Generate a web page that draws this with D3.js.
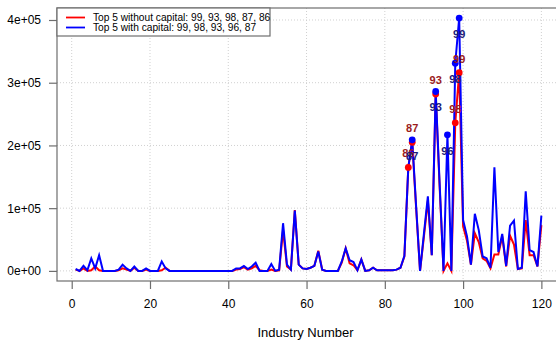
<!DOCTYPE html>
<html>
<head>
<meta charset="utf-8">
<title>Industry Number</title>
<style>
body { margin: 0; background: #fff; }
text { font-family: "Liberation Sans", Arial, sans-serif; fill: #000; }
.frame { fill: none; stroke: #6e6e6e; stroke-width: 1.2px; }
.grid line { stroke: #d0d0d0; stroke-width: 1px; stroke-dasharray: 1,2; }
.axis path { display: none; }
.axis line { stroke: #6e6e6e; stroke-width: 1.2px; }
.axis text { font-size: 12px; }
.lbl { font-size: 11px; font-weight: bold; }
</style>
</head>
<body>
<script src="https://cdn.jsdelivr.net/npm/d3@7"></script>
<script>

// values per industry 1..120
var withoutCapital = [
  2, 0, 4, 0, 1, 7, 1, 0, 0, 0,
  0, 1, 4, 2, 0, 5, 0, 0, 2, 0,
  0, 0, 1, 5, 0, 0, 0, 0, 0, 0,
  0, 0, 0, 0, 0, 0, 0, 0, 0, 0,
  0, 2, 3, 6, 2, 4, 8, 1, 0, 0,
  2, 0, 1, 65, 7, 2, 97, 10, 4, 3,
  5, 8, 32, 2, 0, 0, 0, 0, 13, 36,
  12, 9, 1, 18, 0, 1, 5, 1, 1, 1,
  1, 1, 2, 5, 23, 165, 205, 100, 0, 55,
  112, 25, 282, 135, 0, 12, 0, 236, 316, 71,
  48, 10, 60, 46, 20, 16, 4, 26, 26, 55,
  7, 56, 42, 3, 4, 81, 25, 25, 7, 73
].map(function(v) { return v * 1000; });

var withCapital = [
  3, 0, 8, 1, 20, 4, 25, 0, 0, 0,
  0, 2, 10, 4, 0, 7, 0, 0, 4, 0,
  0, 0, 15, 4, 0, 0, 0, 0, 0, 0,
  0, 0, 0, 0, 0, 0, 0, 0, 0, 0,
  0, 4, 4, 8, 3, 7, 13, 0, 0, 0,
  11, 0, 2, 76, 10, 2, 96, 10, 4, 3,
  5, 8, 31, 2, 0, 0, 0, 0, 15, 36,
  17, 14, 1, 18, 0, 1, 5, 1, 1, 1,
  1, 1, 2, 5, 24, 165, 209, 103, 0, 60,
  119, 25, 286, 140, 0, 217, 0, 331, 403, 81,
  55, 10, 91, 65, 23, 20, 5, 165, 30, 59,
  8, 72, 80, 3, 5, 127, 33, 30, 7, 88
].map(function(v) { return v * 1000; });

var industries = d3.range(1, 121);
var xTicks = [0, 20, 40, 60, 80, 100, 120];
var yTicks = [0, 100000, 200000, 300000, 400000];
var legendLabels = ["Top 5 without capital: 99, 93, 98, 87, 86",
                    "Top 5 with capital: 99, 98, 93, 96, 87"];

var width = 556, height = 343;
var pl = 57, pr = 560, pt = 8, pb = 281;

var svg = d3.select("body").append("svg")
    .attr("width", width)
    .attr("height", height);

// R style 4% padding on both axes
var xr = d3.extent(industries), xp = (xr[1] - xr[0]) * 0.04;
var yr = d3.extent(withoutCapital.concat(withCapital)), yp = (yr[1] - yr[0]) * 0.04;

var x = d3.scaleLinear().domain([xr[0] - xp, xr[1] + xp]).range([pl, pr]);
var y = d3.scaleLinear().domain([yr[0] - yp, yr[1] + yp]).range([pb, pt]);

// grid
var grid = svg.append("g").attr("class", "grid");
grid.selectAll(".gx").data(xTicks).enter().append("line")
    .attr("x1", d => x(d)).attr("x2", d => x(d))
    .attr("y1", pt).attr("y2", pb);
grid.selectAll(".gy").data(yTicks).enter().append("line")
    .attr("x1", pl).attr("x2", pr)
    .attr("y1", d => y(d)).attr("y2", d => y(d));

function sci(d) {
  if (d === 0) return "0e+00";
  var e = Math.floor(Math.log10(d));
  return Math.round(d / Math.pow(10, e)) + "e+" + (e < 10 ? "0" + e : e);
}

svg.append("g").attr("class", "axis")
    .attr("transform", "translate(" + pl + ",0)")
    .call(d3.axisLeft(y).tickValues(yTicks).tickFormat(sci).tickSize(8).tickPadding(8));

svg.append("g").attr("class", "axis")
    .attr("transform", "translate(0," + pb + ")")
    .call(d3.axisBottom(x).tickValues(xTicks).tickFormat(d3.format("d")).tickSize(8).tickPadding(10));

svg.append("text")
    .attr("x", x(60) - 1).attr("y", 337)
    .attr("text-anchor", "middle")
    .style("font-size", "13px")
    .text("Industry Number");

// lines
var line = d3.line().x((d, i) => x(industries[i])).y(d => y(d));

svg.append("path").datum(withoutCapital)
    .attr("d", line).attr("fill", "none")
    .attr("stroke", "red").attr("stroke-width", 2);
svg.append("path").datum(withCapital)
    .attr("d", line).attr("fill", "none")
    .attr("stroke", "blue").attr("stroke-width", 2);

function top5(vals) {
  return d3.range(vals.length).sort((a, b) => vals[b] - vals[a]).slice(0, 5);
}

var topRed = top5(withoutCapital), topBlue = top5(withCapital);

svg.selectAll(".pr").data(topRed).enter().append("circle")
    .attr("cx", i => x(industries[i])).attr("cy", i => y(withoutCapital[i]))
    .attr("r", 3.4).attr("fill", "red");
svg.selectAll(".pb").data(topBlue).enter().append("circle")
    .attr("cx", i => x(industries[i])).attr("cy", i => y(withCapital[i]))
    .attr("r", 3.4).attr("fill", "blue");

svg.selectAll(".lr").data(topRed).enter().append("text")
    .attr("class", "lbl")
    .attr("x", i => x(industries[i])).attr("y", i => y(withoutCapital[i]) - 10)
    .attr("text-anchor", "middle")
    .style("fill", "#9b1b1b")
    .text(i => industries[i]);
svg.selectAll(".lb").data(topBlue).enter().append("text")
    .attr("class", "lbl")
    .attr("x", i => x(industries[i])).attr("y", i => y(withCapital[i]) + 20)
    .attr("text-anchor", "middle")
    .style("fill", "#1b1b7a")
    .text(i => industries[i]);

// frame
svg.append("rect").attr("class", "frame")
    .attr("x", pl).attr("y", pt)
    .attr("width", pr - pl).attr("height", pb - pt);

// legend
var lg = svg.append("g");
lg.append("rect")
    .attr("x", pl).attr("y", pt).attr("width", 213).attr("height", 28)
    .attr("fill", "#fff").attr("stroke", "#6e6e6e").attr("stroke-width", 1.2);
var colors = ["red", "blue"];
legendLabels.forEach(function(t, k) {
  var ly = 17.5 + k * 10;
  lg.append("line").attr("x1", 66).attr("x2", 85).attr("y1", ly).attr("y2", ly)
      .attr("stroke", colors[k]).attr("stroke-width", 1.8);
  lg.append("text").attr("x", 93).attr("y", ly + 3.6)
      .style("font-size", "10.2px").text(t);
});

</script>
</body>
</html>
